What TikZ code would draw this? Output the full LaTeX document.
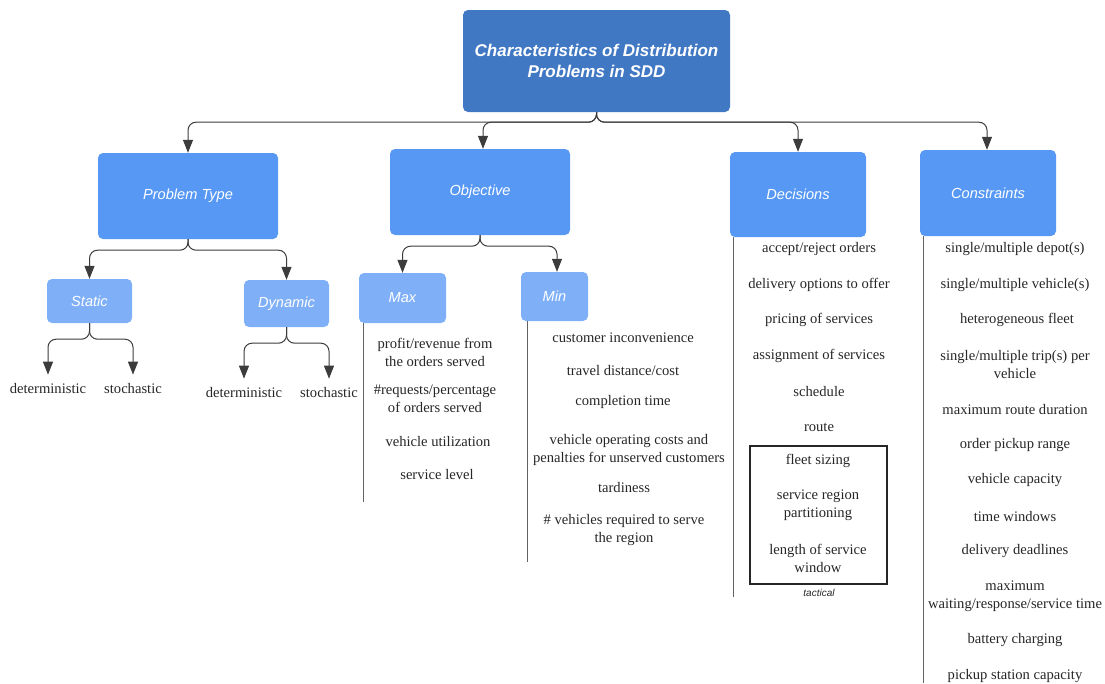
\documentclass[tikz,border=0pt]{standalone}
\usepackage{fontspec}
\setmainfont{Liberation Serif}
\setsansfont{Liberation Sans}
\usetikzlibrary{arrows.meta}

\definecolor{topblue}{RGB}{65,120,196}
\definecolor{midblue}{RGB}{87,152,245}
\definecolor{lowblue}{RGB}{127,176,247}
\definecolor{linegray}{RGB}{60,60,60}

\begin{document}
\begin{tikzpicture}[x=1pt, y=-1pt,
		box/.style = {rounded corners = 5pt, inner sep = 0pt, align = center, text = white,
			font = \sffamily\itshape\fontsize{14.6}{17}\selectfont},
		mainbox/.style = {box, fill = topblue, minimum width = 267pt, minimum height = 102pt,
			font = \sffamily\bfseries\itshape\fontsize{17}{21}\selectfont},
		catbox/.style = {box, fill = midblue},
		subbox/.style = {box, fill = lowblue},
		item/.style = {align = center, inner sep = 0pt, text = black!85,
			font = \fontsize{14.6}{18}\selectfont},
		link/.style = {draw = linegray, line width = 1pt, rounded corners = 8pt,
			-{Triangle[length = 13pt, width = 10pt]}},
		rule/.style = {draw = linegray!80, line width = 1pt}]
	
	\useasboundingbox (0,0) rectangle (1105,683);
	
	% top box and the four categories
	\node [mainbox] (title) at (596.5,61) {Characteristics of Distribution\\Problems in SDD};
	
	\node [catbox, minimum width = 180pt, minimum height = 86pt] (ptype) at (188,196) {Problem Type};
	\node [catbox, minimum width = 180pt, minimum height = 86pt] (objective) at (480,192) {Objective};
	\node [catbox, minimum width = 136pt, minimum height = 85pt] (decisions) at (798,194.5) {Decisions};
	\node [catbox, minimum width = 136pt, minimum height = 86pt] (constraints) at (988,193) {Constraints};
	
	\foreach \child/\x in {ptype/188, objective/483, decisions/798, constraints/987}
		\draw [link] (title.south) -- ++(0,10) -| (\x,0 |- \child.north);
	
	% problem type
	\node [subbox, minimum width = 85pt, minimum height = 44pt] (static) at (89.5,301) {Static};
	\node [subbox, minimum width = 85pt, minimum height = 47pt] (dynamic) at (286.5,303.5) {Dynamic};
	
	\draw [link] (ptype.south) -- ++(0,11) -| (static.north);
	\draw [link] (ptype.south) -- ++(0,11) -| (dynamic.north);
	
	\node [item] (static det) at (48,388) {deterministic};
	\node [item] (static sto) at (133,388) {stochastic};
	\node [item] (dynamic det) at (244,392) {deterministic};
	\node [item] (dynamic sto) at (329,392) {stochastic};
	
	\draw [link, shorten > = 8pt] (static.south) -- ++(0,16) -| (static det.north);
	\draw [link, shorten > = 8pt] (static.south) -- ++(0,16) -| (static sto.north);
	\draw [link, shorten > = 8pt] (dynamic.south) -- ++(0,16) -| (dynamic det.north);
	\draw [link, shorten > = 8pt] (dynamic.south) -- ++(0,16) -| (dynamic sto.north);
	
	% objective
	\node [subbox, minimum width = 87pt, minimum height = 50pt] (max) at (402.5,298) {Max};
	\node [subbox, minimum width = 67pt, minimum height = 49pt] (min) at (554.5,296.5) {Min};
	
	\draw [link] (objective.south) -- ++(0,11) -| (max.north);
	\draw [link] (objective.south) -- ++(0,11) -| (557,0 |- min.north);
	
	\coordinate (max end) at (363,502);
	\coordinate (min end) at (527,562);
	\draw [rule] (max.south -| max end) -- (max end);
	\draw [rule] (min.south -| min end) -- (min end);
	
	\node [item] (max 1) at (435,352) {profit/revenue from\\the orders served};
	\node [item] (max 2) at (435,399) {\#requests/percentage\\of orders served};
	\node [item] (max 3) at (438,441) {vehicle utilization};
	\node [item] (max 4) at (437,474) {service level};
	
	\node [item] (min 1) at (623,338) {customer inconvenience};
	\node [item] (min 2) at (623,370) {travel distance/cost};
	\node [item] (min 3) at (623,402) {completion time};
	\node [item] (min 4) at (629,450) {vehicle operating costs and\\penalties for unserved customers};
	\node [item] (min 5) at (624,487) {tardiness};
	\node [item] (min 6) at (624,530) {\# vehicles required to serve\\the region};
	
	% decisions
	\coordinate (decisions end) at (733,597);
	\draw [rule] (decisions.south -| decisions end) -- (decisions end);
	
	\node [item] (dec 1) at (819,249) {accept/reject orders};
	\node [item] (dec 2) at (819,285) {delivery options to offer};
	\node [item] (dec 3) at (819,320) {pricing of services};
	\node [item] (dec 4) at (819,356) {assignment of services};
	\node [item] (dec 5) at (819,391) {schedule};
	\node [item] (dec 6) at (819,427) {route};
	
	\draw [line width = 1.3pt, draw = black!85] (750,446) rectangle (887,584);
	\node [item] (dec 7) at (818,461) {fleet sizing};
	\node [item] (dec 8) at (818,505) {service region\\partitioning};
	\node [item] (dec 9) at (818,558) {length of service\\window};
	\node [item, font = \sffamily\itshape\fontsize{10}{12}\selectfont] (tactical) at (819,593) {tactical};
	
	% constraints
	\coordinate (constraints end) at (923,683);
	\draw [rule] (constraints.south -| constraints end) -- (constraints end);
	
	\node [item] (con 1) at (1015,249) {single/multiple depot(s)};
	\node [item] (con 2) at (1015,285) {single/multiple vehicle(s)};
	\node [item] (con 3) at (1017,320) {heterogeneous fleet};
	\node [item] (con 4) at (1015,364) {single/multiple trip(s) per\\vehicle};
	\node [item] (con 5) at (1015,409) {maximum route duration};
	\node [item] (con 6) at (1015,445) {order pickup range};
	\node [item] (con 7) at (1015,480) {vehicle capacity};
	\node [item] (con 8) at (1015,516) {time windows};
	\node [item] (con 9) at (1015,551) {delivery deadlines};
	\node [item] (con 10) at (1015,596) {maximum\\waiting/response/service time};
	\node [item] (con 11) at (1015,640) {battery charging};
	\node [item] (con 12) at (1015,676) {pickup station capacity};
\end{tikzpicture}
\end{document}
